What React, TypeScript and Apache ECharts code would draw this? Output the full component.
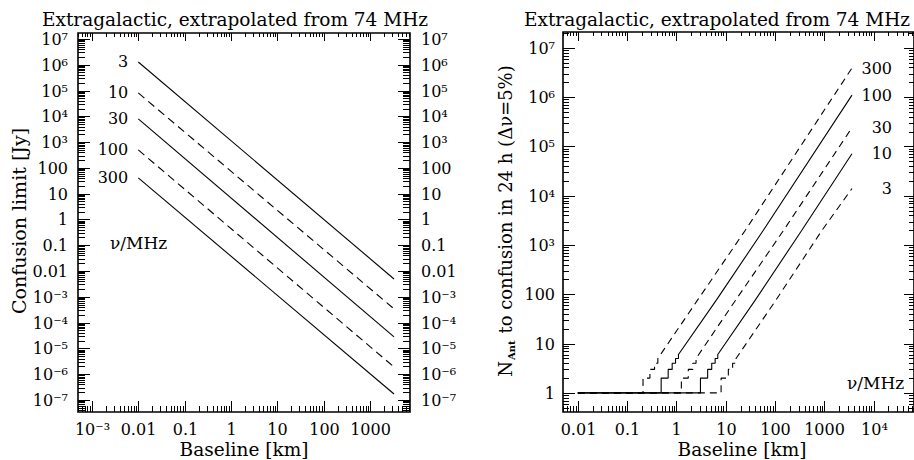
import React, { useEffect, useRef } from 'react';
import * as echarts from 'echarts';

const FONT = '"DejaVu Serif", serif';

// ---------- Left panel: confusion limit [Jy] vs baseline [km] ----------
const LEFT_NU = ['3', '10', '30', '100', '300'];
const LEFT_DASHED = [false, true, false, true, false];
const LEFT_BASELINE = [0.01, 3300];
const LEFT_NU3 = [1.28e6, 4.9e-3];
const LEFT_NU10 = [8.05e4, 3.4e-4];
const LEFT_NU30 = [7.9e3, 2.8e-5];
const LEFT_NU100 = [497, 1.9e-6];
const LEFT_NU300 = [41, 1.7e-7];
const LEFT_VALUES = [LEFT_NU3, LEFT_NU10, LEFT_NU30, LEFT_NU100, LEFT_NU300];

// ---------- Right panel: N_Ant to confusion vs baseline [km] ----------
const RIGHT_NU = ['3', '10', '30', '100', '300'];
const RIGHT_DASHED = [true, false, true, false, true];
const RIGHT_NU3 = [[0.01, 1], [8.06, 1], [8.06, 2], [11.3, 2], [11.3, 3], [13.8, 3], [13.8, 4], [16.2, 4], [16.2, 5], [105, 77], [900, 2000], [3640, 1.4e4]];
const RIGHT_NU10 = [[0.01, 1], [3.07, 1], [3.07, 2], [4.3, 2], [4.3, 3], [5.2, 3], [5.2, 4], [6.1, 4], [6.1, 5], [6.9, 5], [6.9, 6], [40, 77], [350, 2000], [3640, 7.1e4]];
const RIGHT_NU30 = [[0.01, 1], [1.26, 1], [1.26, 2], [1.74, 2], [1.74, 3], [2.15, 3], [2.15, 4], [2.5, 4], [2.5, 5], [16, 77], [150, 2000], [3640, 2.4e5]];
const RIGHT_NU100 = [[0.01, 1], [0.49, 1], [0.49, 2], [0.68, 2], [0.68, 3], [0.82, 3], [0.82, 4], [0.96, 4], [0.96, 5], [1.1, 5], [1.1, 6], [6.5, 77], [58, 2000], [3640, 1.1e6]];
const RIGHT_NU300 = [[0.01, 1], [0.21, 1], [0.21, 2], [0.29, 2], [0.29, 3], [0.36, 3], [0.36, 4], [0.42, 4], [0.42, 5], [2.7, 77], [25, 2000], [3640, 3.9e6]];
const RIGHT_VALUES = [RIGHT_NU3, RIGHT_NU10, RIGHT_NU30, RIGHT_NU100, RIGHT_NU300];

// Axis ranges
const LX = [5e-4, 7300];
const LY = [3.4e-8, 1.7e7];
const RX = [0.005, 6.6e4];
const RY = [0.41, 2.1e7];

const TITLE = 'Extragalactic, extrapolated from 74 MHz';

const SUP: Record<string, string> = { '-': '⁻', '0': '⁰', '1': '¹', '2': '²', '3': '³', '4': '⁴', '5': '⁵', '6': '⁶', '7': '⁷', '8': '⁸', '9': '⁹' };
const sup = (e: number) => '10' + String(e).split('').map((c) => SUP[c]).join('');
const DEC: Record<number, string> = { [-2]: '0.01', [-1]: '0.1', 0: '1', 1: '10', 2: '100', 3: '1000' };
const fmtY = (e: number) => (Math.abs(e) >= 3 ? sup(e) : DEC[e]);
const fmtX = (e: number) => (e >= 4 || e <= -3 ? sup(e) : DEC[e]);

const TICK_FONT = 16;

function logTicks(range: number[]) {
  const out: { v: number; major: boolean }[] = [];
  const e0 = Math.floor(Math.log10(range[0]));
  const e1 = Math.ceil(Math.log10(range[1]));
  for (let e = e0; e <= e1; e++) {
    for (let k = 1; k <= 9; k++) {
      const v = k * Math.pow(10, e);
      if (v >= range[0] && v <= range[1]) out.push({ v, major: k === 1 });
    }
  }
  return out;
}

const tickLine = (x1: number, y1: number, x2: number, y2: number) => ({
  type: 'line',
  shape: { x1, y1, x2, y2 },
  style: { stroke: '#000', lineWidth: 1 },
});

function xTickSeries(axisIndex: number, xr: number[], yRef: number, cfg: any) {
  return {
    type: 'custom',
    coordinateSystem: 'cartesian2d',
    xAxisIndex: axisIndex,
    yAxisIndex: cfg.yAxisIndex,
    silent: true,
    z: 5,
    encode: { x: 0, y: 1 },
    data: logTicks(xr).map((t) => [t.v, yRef, t.major ? 1 : 0]),
    renderItem: (params: any, api: any) => {
      const v = api.value(0);
      const major = api.value(2) === 1;
      const cs = params.coordSys;
      const px = Math.round(api.coord([v, yRef])[0]) + 0.5;
      const bottom = cs.y + cs.height;
      const top = cs.y;
      const children: any[] = [
        tickLine(px, bottom, px, bottom - (major ? cfg.bMajor : cfg.bMinor)),
        tickLine(px, top, px, top + (major ? cfg.tMajor : cfg.tMinor)),
      ];
      if (major) {
        children.push({
          type: 'text',
          x: px,
          y: bottom + cfg.margin,
          style: { text: cfg.fmt(Math.round(Math.log10(v))), fill: '#000', fontSize: TICK_FONT, fontFamily: FONT, align: 'center', verticalAlign: 'top' },
        });
      }
      return { type: 'group', children };
    },
  };
}

function yTickSeries(axisIndex: number, yr: number[], xRef: number, cfg: any) {
  return {
    type: 'custom',
    coordinateSystem: 'cartesian2d',
    xAxisIndex: cfg.xAxisIndex,
    yAxisIndex: axisIndex,
    silent: true,
    z: 5,
    encode: { x: 0, y: 1 },
    data: logTicks(yr).map((t) => [xRef, t.v, t.major ? 1 : 0]),
    renderItem: (params: any, api: any) => {
      const v = api.value(1);
      const major = api.value(2) === 1;
      const cs = params.coordSys;
      const py = Math.round(api.coord([xRef, v])[1]) + 0.5;
      const left = cs.x;
      const right = cs.x + cs.width;
      const children: any[] = [
        tickLine(left, py, left + (major ? cfg.lMajor : cfg.lMinor), py),
        tickLine(right, py, right - (major ? cfg.rMajor : cfg.rMinor), py),
      ];
      if (major) {
        const text = fmtY(Math.round(Math.log10(v)));
        children.push({
          type: 'text', x: left - cfg.lMargin, y: py,
          style: { text, fill: '#000', fontSize: TICK_FONT, fontFamily: FONT, align: 'right', verticalAlign: 'middle' },
        });
        if (cfg.rLabels) {
          children.push({
            type: 'text', x: right + cfg.rMargin, y: py,
            style: { text, fill: '#000', fontSize: TICK_FONT, fontFamily: FONT, align: 'left', verticalAlign: 'middle' },
          });
        }
      }
      return { type: 'group', children };
    },
  };
}

const hiddenAxis = {
  type: 'log',
  logBase: 10,
  axisLine: { show: false },
  axisTick: { show: false },
  axisLabel: { show: false },
  splitLine: { show: false },
};

const labelStyle = { color: '#000', fontSize: 16, fontFamily: FONT };

const leftSeries = LEFT_NU.map((nu, i) => ({
  type: 'line',
  name: nu,
  xAxisIndex: 0,
  yAxisIndex: 0,
  symbol: 'circle',
  symbolSize: 0.1,
  showSymbol: true,
  itemStyle: { color: 'rgba(0,0,0,0)' },
  lineStyle: { color: '#000', width: 1.1, type: LEFT_DASHED[i] ? [8, 5] : 'solid' },
  label: { show: false },
  data: LEFT_BASELINE.map((b, j) =>
    j === 0
      ? { value: [b, LEFT_VALUES[i][j]], label: { show: true, position: 'left', distance: 10, formatter: nu, ...labelStyle } }
      : [b, LEFT_VALUES[i][j]]
  ),
}));

const rightSeries = RIGHT_NU.map((nu, i) => ({
  type: 'line',
  name: nu,
  xAxisIndex: 1,
  yAxisIndex: 2,
  symbol: 'circle',
  symbolSize: 0.1,
  showSymbol: true,
  itemStyle: { color: 'rgba(0,0,0,0)' },
  lineStyle: { color: '#000', width: 1.1, type: RIGHT_DASHED[i] ? [7, 5] : 'solid' },
  label: { show: false },
  data: RIGHT_VALUES[i].map((p, j) =>
    j === RIGHT_VALUES[i].length - 1
      ? { value: p, label: { show: true, position: 'right', distance: 40, align: 'right', formatter: nu, ...labelStyle } }
      : p
  ),
}));

const textStyle = (text: string, size: number, extra: any = {}) => ({
  text, fill: '#000', fontSize: size, fontFamily: FONT, align: 'center', verticalAlign: 'middle', ...extra,
});

const option: any = {
  animation: false,
  backgroundColor: '#fff',
  grid: [
    { left: 78, top: 33, width: 332, height: 379, show: true, borderColor: '#000', borderWidth: 1.6, backgroundColor: 'transparent' },
    { left: 563, top: 32, width: 357, height: 380, show: true, borderColor: '#000', borderWidth: 1.6, backgroundColor: 'transparent' },
  ],
  xAxis: [
    { ...hiddenAxis, gridIndex: 0, min: LX[0], max: LX[1] },
    { ...hiddenAxis, gridIndex: 1, min: RX[0], max: RX[1] },
  ],
  yAxis: [
    { ...hiddenAxis, gridIndex: 0, min: LY[0], max: LY[1] },
    { ...hiddenAxis, gridIndex: 0, min: LY[0], max: LY[1], position: 'right' },
    { ...hiddenAxis, gridIndex: 1, min: RY[0], max: RY[1] },
  ],
  graphic: [
    { type: 'text', x: 235, y: 19, style: textStyle(TITLE, 18.5) },
    { type: 'text', x: 717, y: 19, style: textStyle(TITLE, 18.5) },
    { type: 'text', x: 244, y: 449, style: textStyle('Baseline [km]', 18.5) },
    { type: 'text', x: 742, y: 449, style: textStyle('Baseline [km]', 18.5) },
    { type: 'text', x: 19, y: 221, rotation: Math.PI / 2, style: textStyle('Confusion limit [Jy]', 19) },
    {
      type: 'text', x: 505, y: 221, rotation: Math.PI / 2,
      style: textStyle('{n|N}{s|Ant}{n| to confusion in 24 h (Δν=5%)}', 18, {
        rich: {
          n: { fontSize: 18, fontFamily: FONT, fill: '#000', lineHeight: 22 },
          s: { fontSize: 10, fontFamily: FONT, fontWeight: 'bold', fill: '#000', lineHeight: 22, verticalAlign: 'bottom', padding: [8, 1, 0, 1] },
        },
      }),
    },
    { type: 'text', x: 110, y: 243, style: textStyle('ν/MHz', 17, { align: 'left' }) },
    { type: 'text', x: 847, y: 383, style: textStyle('ν/MHz', 17, { align: 'left' }) },
  ],
  series: [
    ...leftSeries,
    ...rightSeries,
    xTickSeries(0, LX, LY[0], { yAxisIndex: 0, bMajor: 11, bMinor: 6, tMajor: 8, tMinor: 4, margin: 9, fmt: fmtX }),
    yTickSeries(0, LY, LX[0], { xAxisIndex: 0, lMajor: 12, lMinor: 7, rMajor: 12, rMinor: 7, lMargin: 10, rMargin: 11, rLabels: true }),
    xTickSeries(1, RX, RY[0], { yAxisIndex: 2, bMajor: 11, bMinor: 6, tMajor: 9, tMinor: 4, margin: 9, fmt: fmtX }),
    yTickSeries(2, RY, RX[0], { xAxisIndex: 1, lMajor: 12, lMinor: 6, rMajor: 10, rMinor: 5, lMargin: 8, rMargin: 0, rLabels: false }),
  ],
};

export default function App() {
  const ref = useRef<HTMLDivElement>(null);
  useEffect(() => {
    if (!ref.current) return;
    const chart = echarts.init(ref.current, null, { renderer: 'svg' });
    chart.setOption(option);
    return () => chart.dispose();
  }, []);
  return <div ref={ref} style={{ position: 'fixed', left: 0, top: 0, width: 914, height: 460, background: '#fff' }} />;
}
